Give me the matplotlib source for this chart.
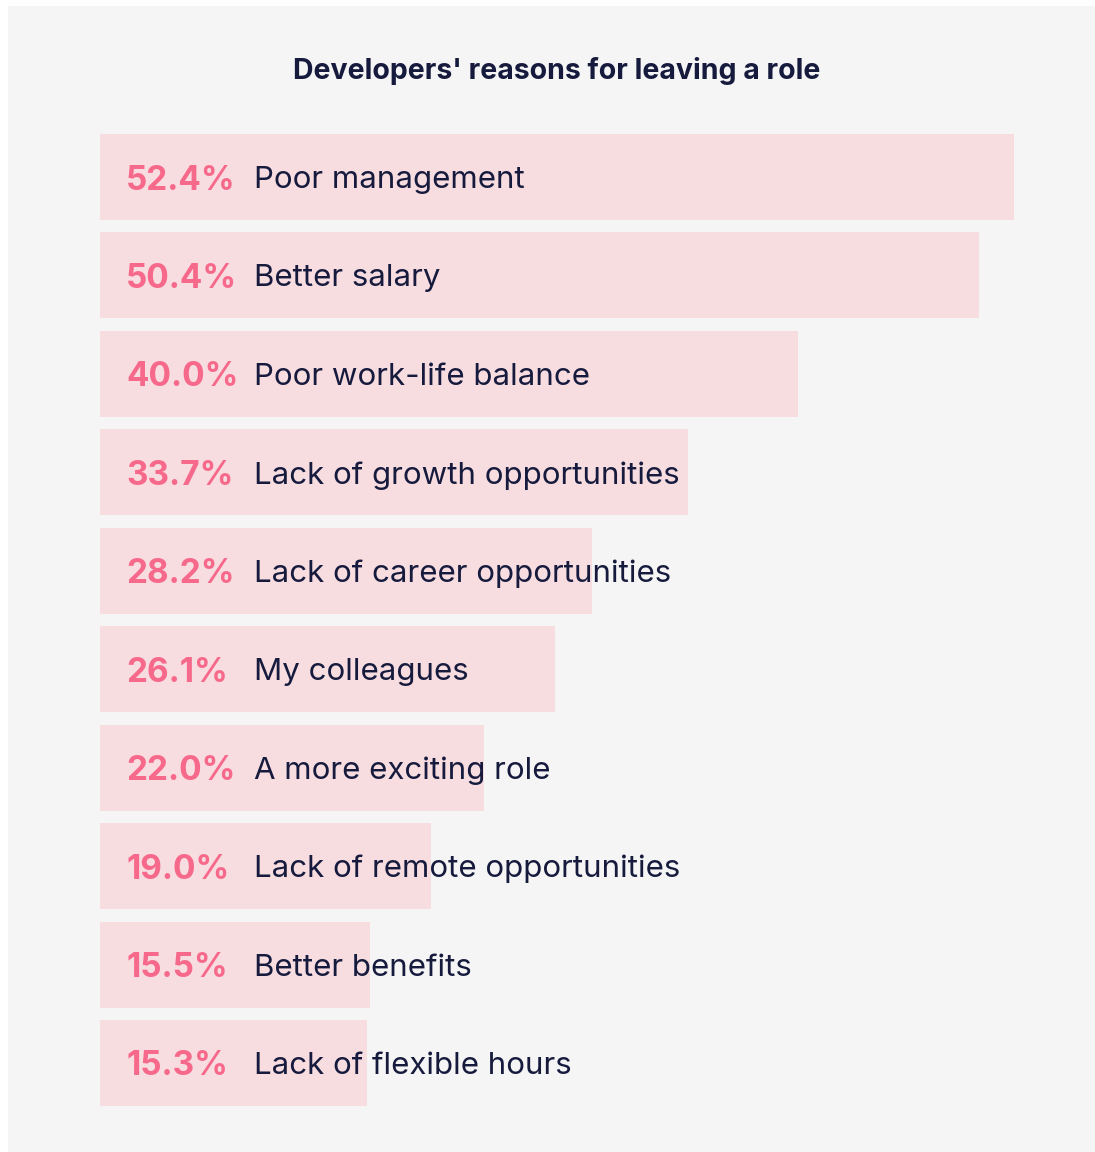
import matplotlib
matplotlib.use("Agg")
import matplotlib.pyplot as plt
import matplotlib.patches as mpatches

# survey results, top reason first
reasons = [
    "Poor management",
    "Better salary",
    "Poor work-life balance",
    "Lack of growth opportunities",
    "Lack of career opportunities",
    "My colleagues",
    "A more exciting role",
    "Lack of remote opportunities",
    "Better benefits",
    "Lack of flexible hours",
]
shares = [52.4, 50.4, 40.0, 33.7, 28.2, 26.1, 22.0, 19.0, 15.5, 15.3]
title = "Developers' reasons for leaving a role"

BAR = "#f7dce0"
PINK = "#f7698b"
NAVY = "#161b3d"
PANEL = "#f5f5f5"
FONT = "Inter"

W, H = 1095, 1152
fig = plt.figure(figsize=(W / 100, H / 100), dpi=100)
fig.patch.set_facecolor("white")

# grey card behind the chart
fig.patches.append(mpatches.Rectangle((8 / W, 0), 1 - 8 / W, 1 - 6 / H,
                                      transform=fig.transFigure,
                                      facecolor=PANEL, edgecolor="none", zorder=-5))

fig.text(557 / W, 1 - 71 / H, title, ha="center", va="center",
         fontsize=20.5, fontweight="bold", color=NAVY, family=FONT)

top, bottom = 134, 1106
ax = fig.add_axes([100 / W, 1 - bottom / H, 914 / W, (bottom - top) / H])
ax.patch.set_alpha(0)
bar_h = 0.874
ypos = list(range(len(shares)))
ax.barh(ypos, shares, height=bar_h, color=BAR, edgecolor="none")
ax.set_xlim(0, max(shares))
ax.set_ylim(len(shares) - 1 + bar_h / 2, -bar_h / 2)
ax.axis("off")

for y, v, lab in zip(ypos, shares, reasons):
    ax.annotate(f"{v:.1f}%", xy=(0, y), xytext=(26, 0), textcoords="offset pixels",
                ha="left", va="center_baseline", fontsize=24, fontweight="bold",
                color=PINK, family=FONT)
    ax.annotate(lab, xy=(0, y), xytext=(154, 0), textcoords="offset pixels",
                ha="left", va="center_baseline", fontsize=22.5,
                color=NAVY, family=FONT)

fig.savefig("out.png", dpi=100, facecolor=fig.get_facecolor())
